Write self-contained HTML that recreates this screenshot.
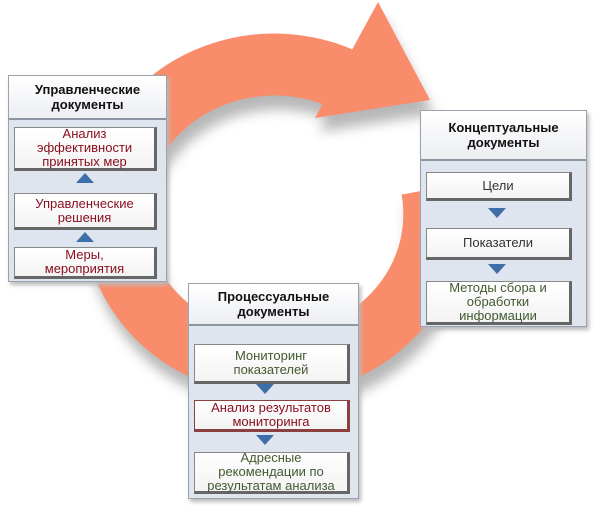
<!DOCTYPE html>
<html><head><meta charset="utf-8"><style>
body{margin:0;width:600px;height:507px;background:#fff;position:relative;overflow:hidden;font-family:"Liberation Sans",sans-serif}
.box{position:absolute;background:#dfe5ee;border:1px solid #9aa3ad;box-shadow:2px 3px 4px #bbb}
.hd{position:absolute;left:0;right:0;top:0;background:linear-gradient(#fff,#eceef2);border-bottom:2px solid #8c96a2;font-weight:bold;font-size:13px;color:#111;text-align:center;line-height:15px;display:flex;align-items:center;justify-content:center}
.it{position:absolute;background:linear-gradient(#fff,#f3f3f3);border:1px solid #888;border-right:3px solid #666;border-bottom:3px solid #666;text-align:center;font-size:13px;line-height:14px;display:flex;align-items:center;justify-content:center}
.r{color:#8b1020}.g{color:#445a30}
.up,.dn{position:absolute;width:0;height:0;border-left:9px solid transparent;border-right:9px solid transparent}
.up{border-bottom:10px solid #3f6fa8}.dn{border-top:10px solid #3f6fa8}
</style></head><body>
<svg width="600" height="507" style="position:absolute;left:0;top:0">
<defs><filter id="b"><feGaussianBlur stdDeviation="6"/></filter></defs>
<g filter="url(#b)" transform="translate(4,14)" opacity="0.7">
<path d="M432 189 A160 150 0 1 1 355 85" fill="none" stroke="#999" stroke-width="62"/>
<polygon points="378,2 430,100 315,118" fill="#999"/>
</g>
<path d="M432 189 A160 150 0 1 1 355 85" fill="none" stroke="#f98c6a" stroke-width="62"/>
<polygon points="378,2 430,100 315,118" fill="#f98c6a"/>
</svg>
<div class="box" style="left:8px;top:75px;width:157px;height:205px">
<div class="hd" style="height:42px">Управленческие<br>документы</div>
<div class="it r" style="left:5px;top:51px;width:139px;height:40px">Анализ<br>эффективности<br>принятых мер</div>
<div class="up" style="left:67px;top:97px"></div>
<div class="it r" style="left:5px;top:117px;width:139px;height:33px">Управленческие<br>решения</div>
<div class="up" style="left:67px;top:156px"></div>
<div class="it r" style="left:5px;top:171px;width:139px;height:28px">Меры,<br>мероприятия</div>
</div>
<div class="box" style="left:420px;top:110px;width:165px;height:215px">
<div class="hd" style="height:48px">Концептуальные<br>документы</div>
<div class="it" style="left:5px;top:61px;width:142px;height:25px;color:#333">Цели</div>
<div class="dn" style="left:67px;top:97px"></div>
<div class="it" style="left:5px;top:117px;width:142px;height:28px;color:#333">Показатели</div>
<div class="dn" style="left:67px;top:153px"></div>
<div class="it g" style="left:5px;top:170px;width:142px;height:40px">Методы сбора и<br>обработки<br>информации</div>
</div>
<div class="box" style="left:188px;top:283px;width:169px;height:214px">
<div class="hd" style="height:40px">Процессуальные<br>документы</div>
<div class="it g" style="left:5px;top:60px;width:152px;height:36px">Мониторинг<br>показателей</div>
<div class="dn" style="left:67px;top:100px"></div>
<div class="it r" style="left:5px;top:116px;width:152px;height:28px;border-color:#8b4040">Анализ результатов<br>мониторинга</div>
<div class="dn" style="left:67px;top:151px"></div>
<div class="it g" style="left:5px;top:168px;width:152px;height:38px">Адресные<br>рекомендации по<br>результатам анализа</div>
</div>
</body></html>
